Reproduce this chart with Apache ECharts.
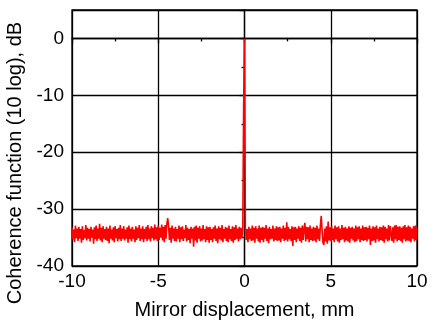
<!DOCTYPE html>
<html>
<head>
<meta charset="utf-8">
<script src="https://cdn.jsdelivr.net/npm/echarts@6/dist/echarts.min.js"></script>
<style>html,body{margin:0;padding:0;background:#fff;}#c{width:437px;height:325px;}</style>
</head>
<body>
<div id="c"></div>
<script>
// Sampling grid for displacement (mm)
const xStart = -10;
const xStep = 0.05;
// Coherence function values (dB), one per sample
const coherenceDb = [
-33.2,-35.3,-33.6,-35.8,-32.9,-35.1,-33.4,-35.6,-33.1,-35.2,-33.5,-35.9,-33.0,-35.4,-33.7,-35.1,-32.8,-35.5,-33.3,-35.2,
-33.5,-35.7,-33.1,-35.0,-33.6,-36.1,-33.2,-35.3,-32.9,-35.6,-33.4,-35.2,-32.6,-35.5,-33.3,-35.8,-33.0,-35.2,-33.5,-35.4,
-33.1,-35.6,-33.4,-36.0,-32.9,-35.2,-33.6,-35.5,-33.2,-35.8,-33.0,-35.1,-33.5,-35.7,-33.3,-35.3,-32.8,-35.6,-33.4,-35.2,
-33.0,-35.5,-33.6,-35.2,-33.2,-35.9,-32.9,-35.3,-33.4,-35.7,-33.1,-35.2,-33.6,-35.8,-33.0,-35.4,-33.3,-35.1,-32.8,-35.6,
-33.4,-35.3,-33.0,-35.8,-33.5,-35.2,-33.1,-35.6,-32.8,-35.3,-33.4,-35.7,-33.0,-35.1,-33.3,-35.5,-32.7,-35.3,-33.2,-35.6,
-32.9,-35.4,-33.3,-35.0,-32.7,-35.5,-33.1,-35.8,-32.8,-35.2,-32.6,-31.6,-33.0,-35.4,-33.3,-35.9,-32.9,-35.2,-33.4,-35.6,
-33.1,-35.7,-33.5,-35.2,-32.9,-35.8,-33.2,-35.3,-33.0,-35.6,-33.6,-35.1,-32.8,-35.7,-33.3,-35.4,-33.5,-36.0,-33.1,-35.2,
-33.4,-36.6,-33.1,-35.5,-32.9,-35.9,-33.3,-35.2,-33.0,-35.7,-33.4,-35.5,-32.8,-35.3,-33.5,-35.8,-33.0,-35.4,-33.2,-35.9,
-33.1,-35.4,-33.5,-35.8,-33.2,-35.2,-32.9,-35.6,-33.4,-36.0,-33.0,-35.3,-33.3,-35.5,-32.8,-35.8,-33.5,-35.2,-33.1,-35.6,
-33.3,-35.8,-32.9,-35.3,-33.5,-35.6,-33.0,-35.9,-33.2,-35.4,-32.8,-35.2,-33.4,-35.7,-33.1,-35.3,-33.3,-35.1,-33.6,-12.0,
0.0,-33.2,-35.4,-33.5,-35.8,-33.1,-35.3,-33.4,-35.6,-32.9,-35.5,-33.3,-35.9,-33.0,-35.2,-33.4,-35.7,-32.9,-35.9,-33.3,
-35.4,-33.1,-35.8,-33.3,-35.2,-32.8,-35.6,-33.4,-36.0,-33.1,-35.3,-33.5,-35.2,-32.9,-35.7,-33.4,-35.4,-33.0,-35.6,-33.2,
-35.5,-33.1,-35.8,-33.4,-35.2,-32.9,-35.6,-33.3,-35.4,-32.3,-35.7,-33.1,-35.3,-33.5,-35.6,-33.0,-36.5,-33.2,-35.4,-33.1,
-35.8,-33.4,-35.2,-33.0,-35.6,-33.3,-35.9,-32.9,-35.4,-33.4,-32.4,-35.7,-33.1,-35.3,-33.2,-35.8,-32.9,-35.4,-33.4,-35.6,
-33.1,-35.5,-33.3,-35.8,-32.9,-35.3,-33.4,-35.6,-32.8,-31.2,-33.8,-35.9,-36.3,-33.4,-35.7,-33.0,-36.1,-32.2,-35.5,-33.2,
-35.6,-33.0,-35.4,-33.4,-35.8,-32.9,-35.3,-33.2,-35.7,-33.0,-35.9,-33.4,-35.4,-32.8,-35.3,-33.3,-35.8,-33.1,-35.5,-33.4,
-35.7,-33.0,-35.9,-33.3,-35.2,-33.1,-35.5,-33.4,-35.8,-32.9,-35.6,-33.2,-35.3,-33.0,-35.8,-33.4,-35.4,-32.9,-35.6,-33.2,
-35.4,-33.1,-35.7,-33.3,-35.3,-32.9,-36.3,-33.4,-35.6,-33.0,-35.5,-33.2,-35.9,-32.9,-35.3,-33.4,-35.7,-33.1,-35.4,-33.2,
-35.6,-32.9,-35.9,-33.1,-35.3,-33.4,-35.7,-32.8,-35.5,-33.0,-32.7,-35.6,-33.2,-35.9,-32.9,-35.3,-32.8,-35.7,-33.1,-35.4,
-33.0,-35.6,-33.3,-35.9,-33.0,-35.3,-32.8,-35.7,-33.2,-35.5,-32.9,-35.6,-33.1,-35.8,-33.4,-35.2,-33.0,-35.7,-32.9,-35.4,
-33.3
];
const xAxisTitle = 'Mirror displacement, mm';
const yAxisTitle = 'Coherence function (10 log), dB';

const seriesData = coherenceDb.map((v, i) => [+(xStart + i * xStep).toFixed(3), v]);

const font = 'Liberation Sans, Arial, sans-serif';
const chart = echarts.init(document.getElementById('c'), null, {renderer: 'canvas'});
chart.setOption({
  animation: false,
  backgroundColor: '#fff',
  grid: {left: 72, right: 20, top: 10, bottom: 59, containLabel: false, outerBoundsMode: 'none',
    show: true, borderColor: '#000', borderWidth: 1.3, backgroundColor: 'transparent'},
  xAxis: {
    type: 'value', min: -10, max: 10, interval: 5,
    name: xAxisTitle, nameLocation: 'middle', nameGap: 34,
    nameTextStyle: {fontFamily: font, fontSize: 20, color: '#000'},
    axisLine: {show: true, lineStyle: {color: '#000', width: 1.3}},
    axisTick: {show: true, inside: false, length: 5, lineStyle: {color: '#000', width: 1.3}},
    minorTick: {show: true, splitNumber: 2, length: 3, lineStyle: {color: '#000', width: 1.3}},
    axisLabel: {fontFamily: font, fontSize: 19, color: '#000', margin: 6},
    splitLine: {show: true, lineStyle: {color: '#000', width: 1.3}}
  },
  yAxis: {
    type: 'value', min: -40, max: 5, interval: 10,
    name: yAxisTitle, nameLocation: 'middle', nameGap: 47,
    nameTextStyle: {fontFamily: font, fontSize: 20, color: '#000', padding: [0, 50, 0, 0]},
    axisLine: {show: true, lineStyle: {color: '#000', width: 1.3}},
    axisTick: {show: true, inside: false, length: 5, lineStyle: {color: '#000', width: 1.3}},
    minorTick: {show: true, splitNumber: 2, length: 3, lineStyle: {color: '#000', width: 1.3}},
    axisLabel: {fontFamily: font, fontSize: 19, color: '#000', margin: 8,
      showMaxLabel: false},
    splitLine: {show: true, lineStyle: {color: '#000', width: 1.3}}
  },
  series: [{
    type: 'line', data: seriesData, showSymbol: false, symbol: 'none',
    lineStyle: {color: '#ff0000', width: 1.6}, z: 3, clip: true
  }]
});
</script>
</body>
</html>
